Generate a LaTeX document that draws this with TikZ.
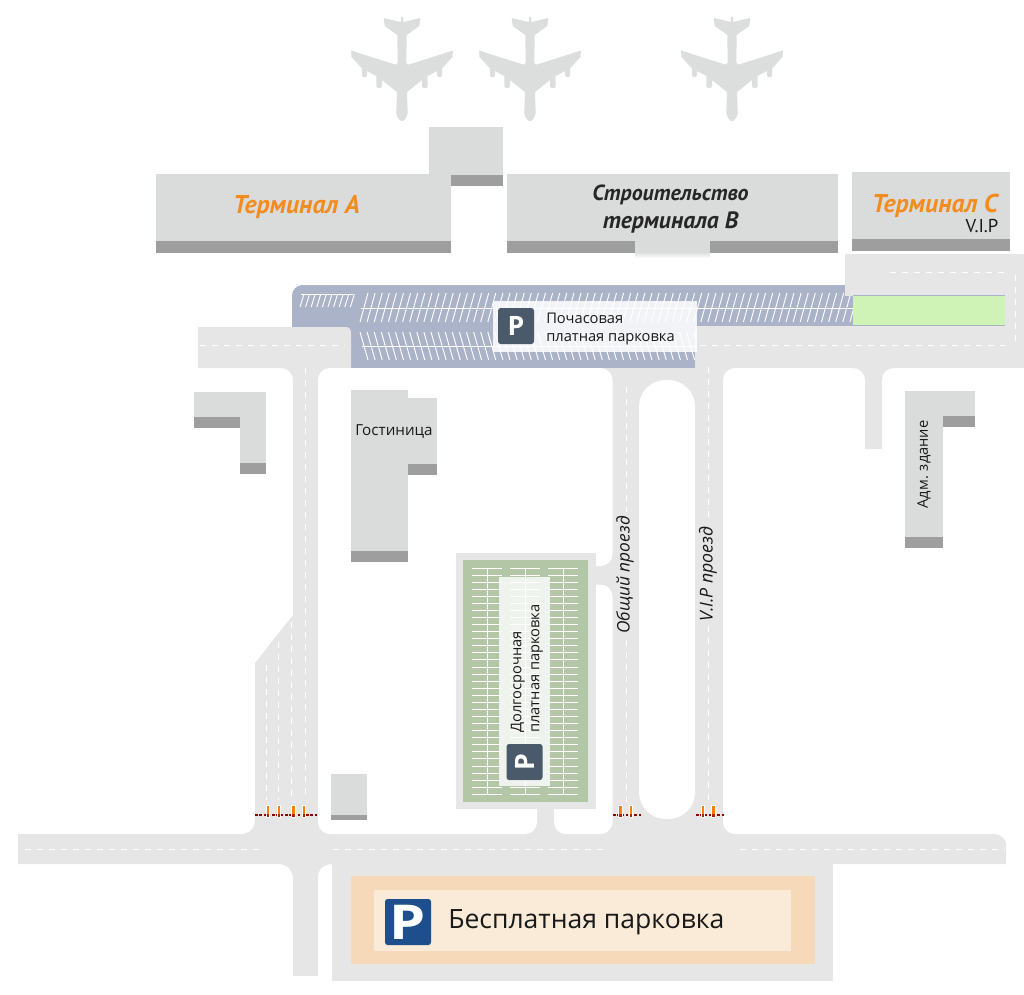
\documentclass[tikz,border=0pt]{standalone}
\usepackage{fontspec}
\setmainfont{Open Sans}
\newfontfamily\termfont{PT Sans}
\definecolor{road}{HTML}{E6E6E6}
\definecolor{bld}{HTML}{DADCDC}
\definecolor{stripe}{HTML}{9E9E9E}
\definecolor{blueprk}{HTML}{AAB3C8}
\definecolor{greenprk}{HTML}{B3C6A5}
\definecolor{lime}{HTML}{CFF2B6}
\definecolor{signdark}{HTML}{4A5A6A}
\definecolor{signblue}{HTML}{1F4E8C}
\definecolor{orangeA}{HTML}{F28C1E}
\definecolor{peach}{HTML}{F6D9B9}
\definecolor{peachl}{HTML}{FAEBD9}
\definecolor{planec}{HTML}{DCDDDD}
\tikzset{
  x=.75pt,y=-.75pt,
  roadf/.style={fill=road},
  bldf/.style={fill=bld},
  stripef/.style={fill=stripe},
  whitef/.style={fill=white,rounded corners=9pt},
  lane/.style={draw=white,line width=.75pt,dash pattern=on 4.5pt off 4.5pt},
  bay/.style={draw=white,line width=.7pt},
  txt/.style={inner sep=0pt,text=black!90,font=\fontsize{11pt}{13.5pt}\selectfont},
  term/.style={inner sep=0pt,font=\termfont\bfseries\itshape\fontsize{19.3pt}{21pt}\selectfont},
  psign/.style={fill=signdark,rounded corners=2pt,text=white,inner sep=0pt,align=center,font=\bfseries\fontsize{20pt}{20pt}\selectfont},
  barrier/.style={draw=red!55!black,line width=1.4pt,dash pattern=on 2pt off 1.2pt},
  planeshape/.pic={
    \foreach \s in {1,-1}{
      \fill[planec,xscale=\s] (-1,17) -- (0,17) -- (1.3,22) -- (18.3,18) -- (17.3,26) -- (4.7,35) -- (4.3,62)
        .. controls (4.5,64) and (5.5,65) .. (7,64.5) -- (51,50.5) -- (50.5,57) -- (40,68.5) -- (40,75)
        .. controls (40,78) and (35,78) .. (35,75) -- (35,71) -- (25.7,76) -- (25.7,86)
        .. controls (25.7,89) and (20,89) .. (20,86) -- (20,80) -- (5,92) -- (5.7,113)
        .. controls (5,118) and (2,121) .. (0,121) -- (-1,121) -- cycle;
    }
  }
}
\begin{document}
\begin{tikzpicture}
\useasboundingbox (0,0) rectangle (1024,995);
% planes
\foreach \cx in {402,530,732}{ \pic at (\cx,0) {planeshape}; }
% parking (hourly)
\fill[blueprk,rounded corners=8pt] (292,368) -- (292,285) -- (860,285) -- (860,368) -- cycle;
% hourly parking bays
\foreach \i in {0,...,9}{ \draw[bay] (300+\i*5.6,307) -- (304+\i*5.6,294); }
\draw[bay] (301,294) -- (353,294);
\foreach \i in {0,...,69}{ \draw[bay] (360+\i*7.1,322) -- (368+\i*7.1,293); }
\draw[bay] (361,308) -- (855,308);
\foreach \i in {0,...,47}{ \draw[bay] (360+\i*7.1,332) -- (368+\i*7.1,360); }
\draw[bay] (362,346) -- (695,346);
% road surface
\fill[roadf] (198,327) -- (345,327) .. controls (349,327) and (351,329) .. (351,333) -- (351,368) -- (198,368) -- cycle;
\fill[roadf] (845,254) rectangle (1024,296);
\fill[roadf] (1005,290) rectangle (1024,330);
\fill[roadf] (695,326) rectangle (1024,368);
% green lot
\fill[lime] (853,295.5) rectangle (1005,325.5);
\draw[blueprk,line width=.6pt] (853,295.5) -- (1005,295.5) (853,325.5) -- (1005,325.5);
\fill[roadf] (293,368) -- (280,368) .. controls (288,368) and (293,373) .. (293,381) -- (293,615) -- (255,663) -- (255,819)
  .. controls (255,829) and (249,834) .. (240,834) -- (18,834) -- (18,864) -- (1006,864) -- (1006,834) -- (750,834) -- (750,368) -- (695,368) -- (695,368) -- cycle;
\fill[roadf] (612,368) rectangle (750,380);
% white blocks between roads
\fill[whitef] (318,368) -- (612.5,368) -- (612.5,566) -- (570,566) -- (570,584.5) -- (612.5,584.5) -- (612.5,834) -- (554,834) -- (554,795) -- (537,795) -- (537,834) -- (318,834) -- cycle;
\fill[white,rounded corners=20pt] (639,380) rectangle (695,819);
\fill[whitef] (723,368) -- (1030,368) -- (1030,840) -- (1006.5,840) -- (1006.5,834) -- (723,834) -- cycle;
\fill[roadf] (865,362) rectangle (882,449);
\fill[roadf] (865,368) -- (853,368) .. controls (860,368) and (865,373) .. (865,380) -- cycle;
\fill[roadf] (882,368) -- (894,368) .. controls (887,368) and (882,373) .. (882,380) -- cycle;
% lower left road
\fill[roadf] (293,860) rectangle (318,976);
\fill[roadf] (293,864) -- (278,864) .. controls (287,864) and (293,870) .. (293,879) -- cycle;
\fill[roadf] (318,864) -- (332,864) .. controls (324,864) and (318,869) .. (318,877) -- cycle;
% lane markings
\draw[lane] (305,368) -- (305,800);
\draw[lane] (291,622) -- (291,800);
\draw[lane] (278,642) -- (278,800);
\draw[lane] (266,665) -- (266,800);
\draw[lane] (626,387) -- (626,512);
\draw[lane] (626,640) -- (626,803);
\draw[lane] (708.5,367) -- (708.5,522);
\draw[lane] (708.5,626) -- (708.5,803);
\draw[lane] (25,849) -- (265,849);
\draw[lane] (333,849) -- (606,849);
\draw[lane] (740,849) -- (1005,849);
\draw[lane] (200,345) -- (345,345);
\draw[lane] (700,345) -- (1005,345);
\draw[lane] (890,272) -- (1008,272);
\draw[lane] (1015,275) -- (1015,342);
% hourly sign
\fill[white,opacity=.85] (493,301) rectangle (696.5,352);
\node[psign,minimum width=27pt,minimum height=27pt] (hourlyP) at (516,326) {P};
\node[txt,anchor=west,align=left] (hourlyT) at (546,329) {Почасовая\\платная парковка};
% terminals
\fill[bldf] (156,174) rectangle (451,253);
\fill[stripef] (156,241) rectangle (451,253);
\fill[bldf] (429,127) rectangle (503,186);
\fill[stripef] (451,175) rectangle (503,186);
\fill[bldf] (507,174) rectangle (838,253);
\fill[stripef] (507,241) rectangle (635,253);
\fill[stripef] (710,241) rectangle (838,253);
\shade[top color=bld,bottom color=white] (635,252) rectangle (710,258);
\fill[bldf] (852,172) rectangle (1010,251);
\fill[stripef] (852,239) rectangle (1010,251);
\node[term,text=orangeA] (termA) at (296.5,207) {Терминал А};
\node[term,text=black!85,align=center] (termB) at (670.5,209) {{\fontsize{16.4pt}{21pt}\selectfont Строительство}\\{\fontsize{17.7pt}{21pt}\selectfont терминала В}};
\node[term,text=orangeA] (termC) at (935,206) {Терминал С};
\node[txt,font=\termfont\fontsize{14pt}{14pt}\selectfont] (vip) at (982,226) {V.I.P};
% left building
\fill[bldf] (194,392) rectangle (266,428);
\fill[bldf] (240,392) rectangle (266,474);
\fill[stripef] (194,417) rectangle (240,428);
\fill[stripef] (240,463) rectangle (266,474);
% hotel
\fill[bldf] (351,390) rectangle (408,562);
\fill[bldf] (408,398) rectangle (437,475);
\fill[stripef] (351,551) rectangle (408,562);
\fill[stripef] (408,464) rectangle (437,475);
\node[txt,font=\fontsize{11.4pt}{14pt}\selectfont] (hotel) at (394,431) {Гостиница};
% admin
\fill[bldf] (905,391) rectangle (943,548);
\fill[bldf] (943,391) rectangle (975,427);
\fill[stripef] (905,537) rectangle (943,548);
\fill[stripef] (943,416) rectangle (975,427);
\node[txt,rotate=90] (adm) at (924,464.5) {Адм. здание};
% booth
\fill[bldf] (331,774) rectangle (367,820);
\fill[stripef] (331,815) rectangle (367,820);
% long-term parking
\fill[roadf] (456,553) rectangle (596,809);
\fill[greenprk] (463,560) rectangle (588,802);
\foreach \i in {0,...,32}{
  \draw[bay] (472,568+\i*7.07) -- (502,568+\i*7.07);
  \draw[bay] (510,568+\i*7.07) -- (540,568+\i*7.07);
  \draw[bay] (548,568+\i*7.07) -- (578,568+\i*7.07);
}
\draw[bay] (487,568) -- (487,795) (525,568) -- (525,795) (563,568) -- (563,795);
\fill[white,opacity=.8] (499,577) rectangle (550,786);
\node[psign,minimum width=27pt,minimum height=27pt,rotate=90] (longP) at (524.5,762) {P};
\node[txt,rotate=90,anchor=west,align=left] (longT) at (527,733) {Долгосрочная\\платная парковка};
% road labels
\node[txt,font=\itshape\fontsize{13pt}{14pt}\selectfont,rotate=90] (obsh) at (625,575) {Общий проезд};
\node[txt,font=\itshape\fontsize{13.3pt}{14pt}\selectfont,rotate=90] (viproad) at (708,574) {V.I.P проезд};
% barriers
\draw[barrier] (255,815) -- (318,815);
\draw[barrier] (613,815) -- (641,815);
\draw[barrier] (696,815) -- (724,815);
\foreach \x in {268,279,293.5,304,620.5,631,703,713.5}{
  \fill[white] (\x-2.3,805) rectangle (\x+2.3,818);
  \fill[orange] (\x-1.3,806) rectangle (\x+1.3,817);
  \fill[red!55!black,opacity=.7] (\x-1.3,814) rectangle (\x+1.3,817);
}
% free parking
\fill[roadf] (332,864) rectangle (833,981);
\fill[peach] (351,876) rectangle (815,964);
\fill[peachl] (374,890) rectangle (791,951);
\node[psign,fill=signblue,minimum width=34.5pt,minimum height=34.5pt,font=\bfseries\fontsize{36pt}{36pt}\selectfont] (freeP) at (408,922) {\raisebox{-1.5pt}{\scalebox{1.2}[1]{P}}};
\node[txt,anchor=west,font=\fontsize{19.9pt}{24pt}\selectfont] (freeT) at (448,922) {Бесплатная парковка};
\end{tikzpicture}
\end{document}
